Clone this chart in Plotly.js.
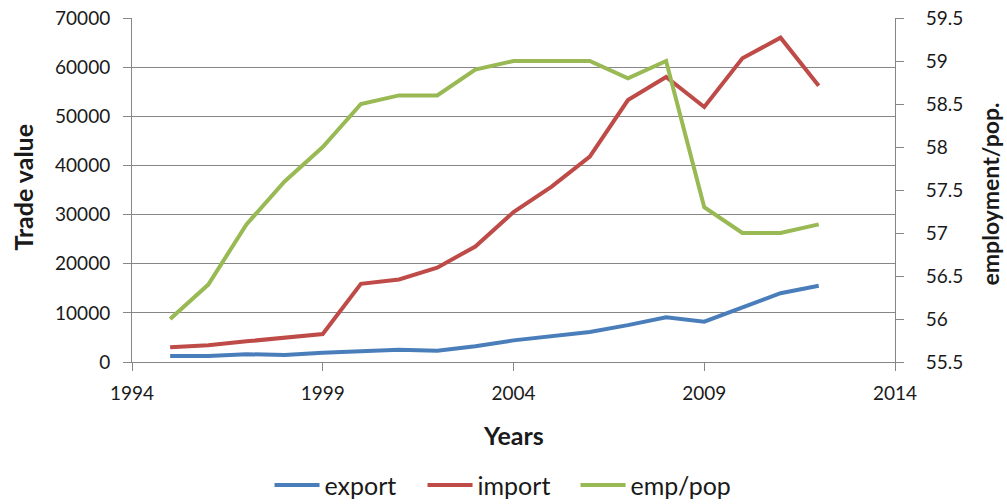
<!DOCTYPE html>
<html>
<head>
<meta charset="utf-8">
<script src="https://cdn.plot.ly/plotly-3.0.1.min.js"></script>
<style>
  html, body { margin: 0; padding: 0; background: #ffffff; }
  #chart { width: 1007px; height: 504px; }
</style>
</head>
<body>
<div id="chart"></div>
<script>
// Yearly series, 1995-2012
const years = [1995, 1996, 1997, 1998, 1999, 2000, 2001, 2002, 2003,
               2004, 2005, 2006, 2007, 2008, 2009, 2010, 2011, 2012];
const exportValues = [1200, 1200, 1600, 1400, 1900, 2300, 2500, 2300, 3200,
                      4400, 5200, 6100, 7500, 9100, 8200, 11200, 14000, 15500];
const importValues = [3000, 3400, 4200, 5000, 5700, 15900, 16800, 19200, 23500,
                      30500, 35700, 41800, 53300, 58000, 51900, 61800, 66000, 56200];
const empPop = [56.0, 56.4, 57.1, 57.6, 58.0, 58.5, 58.6, 58.6, 58.9,
                59.0, 59.0, 59.0, 58.8, 59.0, 57.3, 57.0, 57.0, 57.1];
const seriesNames = ['export', 'import', 'emp/pop'];
const axisTitles = { x: 'Years', y: 'Trade value', y2: 'employment/pop.' };

const FONT = 'Lato, "Open Sans", "DejaVu Sans", sans-serif';
const AXIS_GREY = '#868686';
const TEXT = '#1a1a1a';

const traces = [
  { x: years, y: exportValues, name: seriesNames[0], type: 'scatter', mode: 'lines',
    line: { color: '#4a7ebb', width: 4 }, yaxis: 'y' },
  { x: years, y: importValues, name: seriesNames[1], type: 'scatter', mode: 'lines',
    line: { color: '#be4b48', width: 4 }, yaxis: 'y' },
  // last legend entry gets a wider slot so its label is not clipped
  { x: years, y: empPop, name: seriesNames[2], type: 'scatter', mode: 'lines',
    line: { color: '#98b954', width: 4 }, yaxis: 'y2', legendwidth: 112 }
];

const tickFont = { family: FONT, size: 19, color: TEXT };

// axis titles are drawn as paper-anchored annotations so their placement is fixed
function axisTitle(text, x, y, angle, size) {
  return {
    text: '<b>' + text + '</b>',
    xref: 'paper', yref: 'paper',
    x: x, y: y,
    xanchor: 'center', yanchor: 'middle',
    textangle: angle,
    showarrow: false,
    borderpad: 0,
    font: { family: FONT, size: size, color: TEXT }
  };
}

const layout = {
  width: 1007,
  height: 504,
  margin: { l: 132, r: 112, t: 18, b: 142, autoexpand: false },
  paper_bgcolor: '#ffffff',
  plot_bgcolor: '#ffffff',
  font: { family: FONT, size: 19, color: TEXT },
  showlegend: true,
  legend: {
    orientation: 'h',
    xref: 'container', yref: 'paper',
    x: 0.505, xanchor: 'center',
    y: -0.358, yanchor: 'middle',
    font: { family: FONT, size: 25, color: TEXT },
    itemwidth: 45,
    entrywidth: 93, entrywidthmode: 'pixels',
    bgcolor: 'rgba(0,0,0,0)'
  },
  xaxis: {
    automargin: false,
    range: [1994, 2014],
    tick0: 1994, dtick: 5, tickformat: 'd',
    showgrid: false, zeroline: false,
    showline: true, linecolor: AXIS_GREY, linewidth: 1,
    ticks: 'outside', ticklen: 8, tickcolor: AXIS_GREY,
    ticklabelstandoff: 6,
    tickfont: tickFont,
    fixedrange: true
  },
  yaxis: {
    automargin: false,
    range: [0, 70000],
    tick0: 0, dtick: 10000, tickformat: 'd',
    showgrid: true, gridcolor: AXIS_GREY, gridwidth: 1,
    zeroline: false,
    showline: true, linecolor: AXIS_GREY, linewidth: 1,
    ticks: 'outside', ticklen: 8, tickcolor: AXIS_GREY,
    ticklabelstandoff: 9,
    tickfont: tickFont,
    fixedrange: true
  },
  yaxis2: {
    automargin: false,
    overlaying: 'y', side: 'right',
    range: [55.5, 59.5],
    tick0: 55.5, dtick: 0.5,
    showgrid: false, zeroline: false,
    showline: true, linecolor: AXIS_GREY, linewidth: 1,
    ticks: 'outside', ticklen: 8, tickcolor: AXIS_GREY,
    ticklabelstandoff: 18,
    tickfont: tickFont,
    fixedrange: true
  },
  annotations: [
    axisTitle(axisTitles.x, 0.5, -0.212, 0, 25),
    axisTitle(axisTitles.y, -0.1429, 0.51, -90, 25),
    axisTitle(axisTitles.y2, 1.1245, 0.49, -90, 23)
  ]
};

Plotly.newPlot('chart', traces, layout, { displayModeBar: false, staticPlot: true });
</script>
</body>
</html>
